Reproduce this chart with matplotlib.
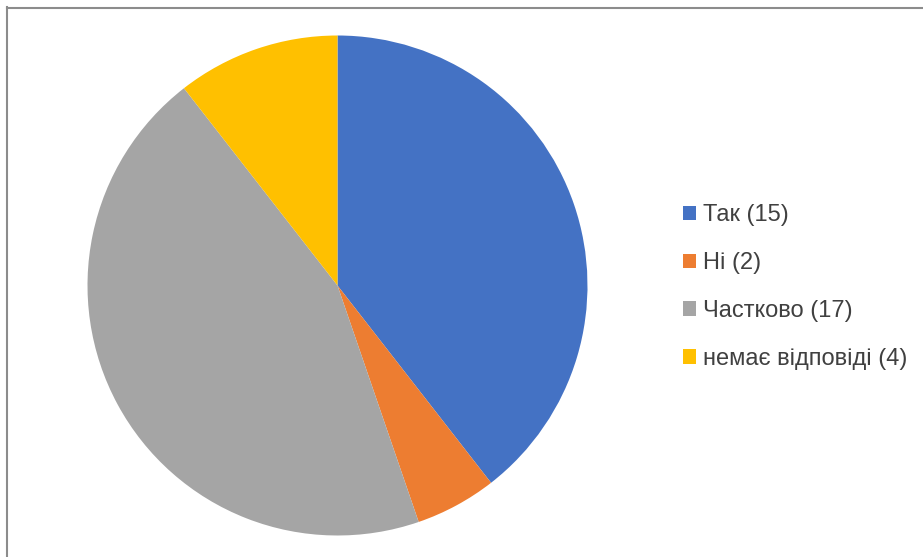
import matplotlib
matplotlib.use("Agg")
import matplotlib.pyplot as plt
from matplotlib.lines import Line2D
from matplotlib.patches import Patch

labels = ["Так (15)", "Ні (2)", "Частково (17)", "немає відповіді (4)"]
values = [15, 2, 17, 4]
colors = ["#4472C4", "#ED7D31", "#A5A5A5", "#FFC000"]

W, H = 923, 557
fig = plt.figure(figsize=(W / 100, H / 100), dpi=100)
fig.patch.set_facecolor("white")

cx, cy, r = 337.5, 285.5, 250
ax = fig.add_axes([(cx - r) / W, (H - cy - r) / H, 2 * r / W, 2 * r / H])
ax.pie(values, colors=colors, startangle=90, counterclock=False, radius=1,
       wedgeprops=dict(linewidth=0))
ax.set_xlim(-1, 1)
ax.set_ylim(-1, 1)
ax.set_aspect("equal")
ax.axis("off")

# frame border (top and left visible)
fig.add_artist(Line2D([7 / W, 1.0], [1 - 7.5 / H, 1 - 7.5 / H], color="#8c8c8c", lw=1.5, transform=fig.transFigure))
fig.add_artist(Line2D([7.5 / W, 7.5 / W], [0, 1 - 7 / H], color="#8c8c8c", lw=1.5, transform=fig.transFigure))

handles = [Patch(facecolor=c, edgecolor="none") for c in colors]
leg = fig.legend(handles, labels, loc="upper left",
                 bbox_to_anchor=(683 / W, 1 - 204 / H),
                 frameon=False, prop=dict(family="Liberation Sans", size=17),
                 handlelength=0.55, handleheight=0.55, handletextpad=0.3,
                 labelspacing=1.1, borderaxespad=0, borderpad=0)
for t in leg.get_texts():
    t.set_color("#404040")

fig.savefig("out.png", dpi=100)
